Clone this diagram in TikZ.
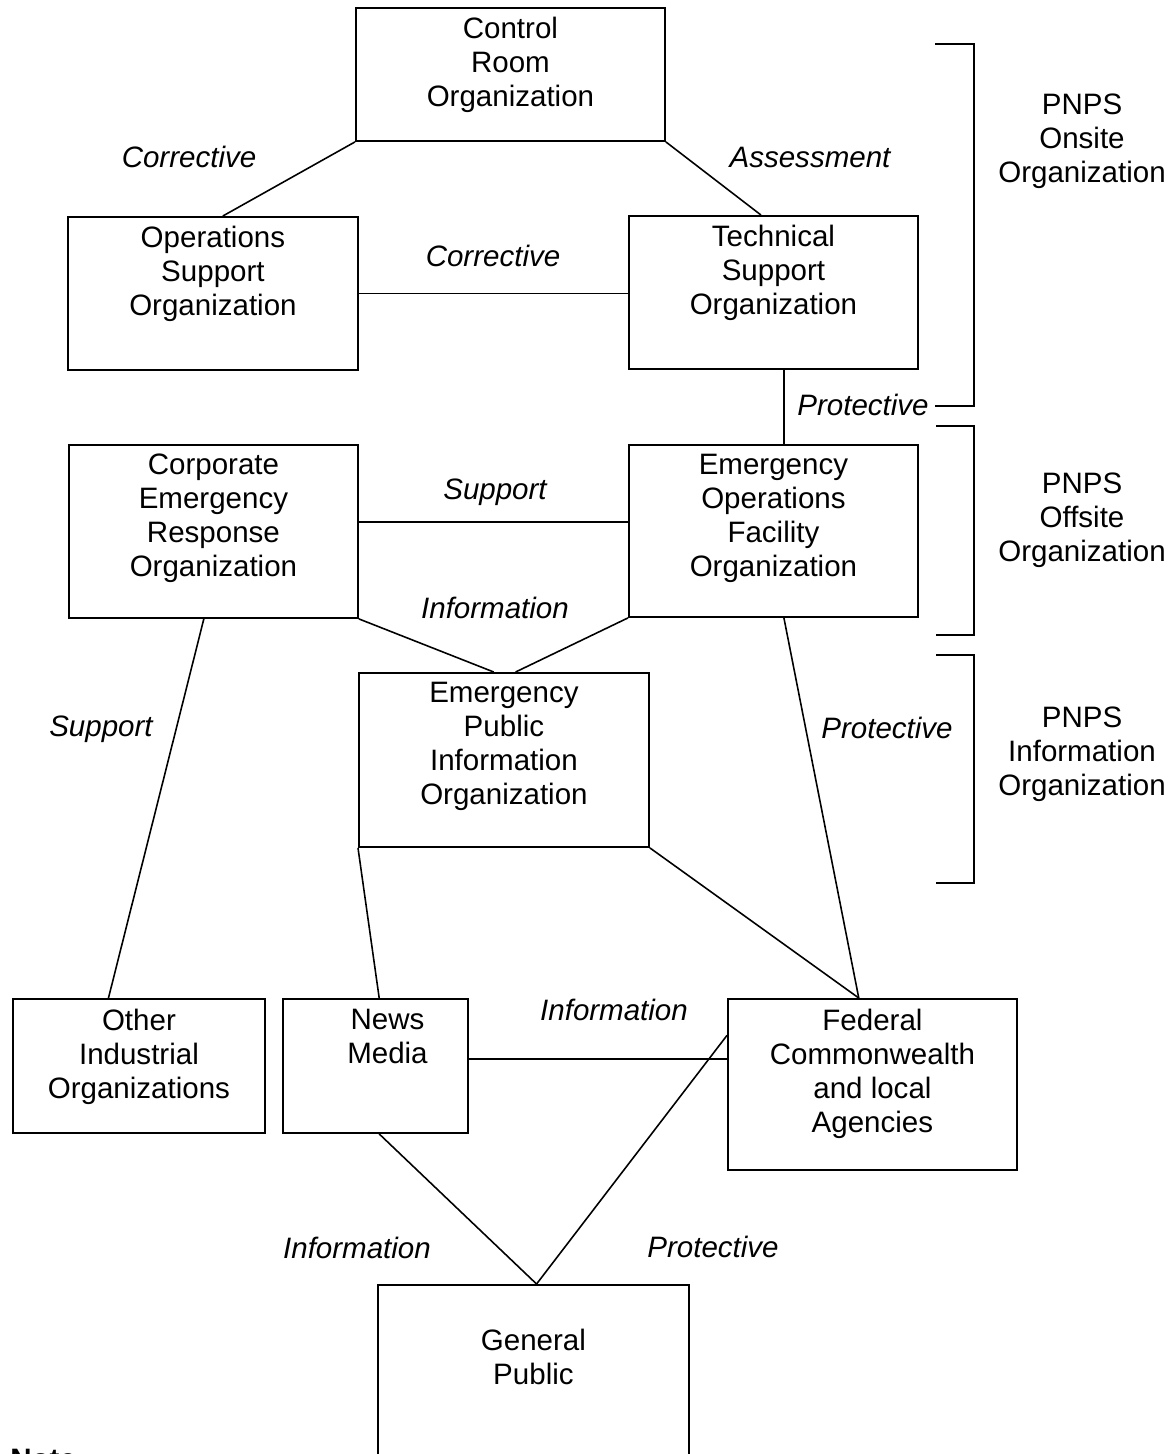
\documentclass[tikz,border=0pt]{standalone}
\usepackage{fontspec}
\setmainfont{Liberation Sans}
\usetikzlibrary{positioning,calc}

\begin{document}
\begin{tikzpicture}[x=0.02cm,y=-0.02cm,
  box/.style={draw,line width=1.1pt,rectangle,anchor=north west,inner sep=0pt},
  txt/.style={align=center,inner sep=0pt,font=\fontsize{16.8}{19.4}\selectfont},
  flow/.style={inner sep=0pt,font=\fontsize{16.8}{19.4}\selectfont\itshape},
  link/.style={line width=0.9pt}]

\useasboundingbox (0,0) rectangle (1176,1454);

%Boxes of the organizations
\node[box,minimum width=6.18cm,minimum height=2.66cm] (cro) at (355,7) {};
\node[box,minimum width=5.8cm,minimum height=3.06cm] (oso) at (67,216) {};
\node[box,minimum width=5.78cm,minimum height=3.06cm] (tso) at (628,215) {};
\node[box,minimum width=5.78cm,minimum height=3.46cm] (cero) at (68,444) {};
\node[box,minimum width=5.78cm,minimum height=3.44cm] (eofo) at (628,444) {};
\node[box,minimum width=5.8cm,minimum height=3.48cm] (epio) at (358,672) {};
\node[box,minimum width=5.04cm,minimum height=2.68cm] (oio) at (12,998) {};
\node[box,minimum width=3.7cm,minimum height=2.68cm] (news) at (282,998) {};
\node[box,minimum width=5.78cm,minimum height=3.42cm] (fcla) at (727,998) {};
\node[box,minimum width=6.22cm,minimum height=4.6cm] (pub) at (377,1284) {};

%Texts inside the boxes
\node[txt,below=0.19cm of cro.north] (cro-t) {Control\\Room\\Organization};
\node[txt,below=0.19cm of oso.north] (oso-t) {Operations\\Support\\Organization};
\node[txt,below=0.19cm of tso.north] (tso-t) {Technical\\Support\\Organization};
\node[txt,below=0.19cm of cero.north] (cero-t) {Corporate\\Emergency\\Response\\Organization};
\node[txt,below=0.19cm of eofo.north] (eofo-t) {Emergency\\Operations\\Facility\\Organization};
\node[txt,below=0.19cm of epio.north] (epio-t) {Emergency\\Public\\Information\\Organization};
\node[txt,below=0.21cm of oio.north] (oio-t) {Other\\Industrial\\Organizations};
\node[txt,below=0.21cm of news.north,xshift=0.24cm] (news-t) {News\\Media};
\node[txt,below=0.21cm of fcla.north] (fcla-t) {Federal\\Commonwealth\\and local\\Agencies};
\node[txt,below=0.89cm of pub.north] (pub-t) {General\\Public};

%Connectors
\draw[link] (cro.south west) -- ($(oso.north west)!0.534!(oso.north east)$);
\draw[link] (cro.south east) -- ($(tso.north west)!0.457!(tso.north east)$);
\draw[link] (oso.east) -- (oso.east -| tso.west);
\draw[link] ($(tso.south west)!0.536!(tso.south east)$) coordinate (tso-b) -- (tso-b |- eofo.north);
\draw[link] ($(cero.north east)!0.445!(cero.south east)$) coordinate (cero-r) -- (cero-r -| eofo.west);
\draw[link] (cero.south east) -- ($(epio.north west)!0.465!(epio.north east)$);
\draw[link] (eofo.south west) -- ($(epio.north west)!0.54!(epio.north east)$);
\draw[link] ($(cero.south west)!0.467!(cero.south east)$) -- ($(oio.north west)!0.38!(oio.north east)$);
\draw[link] ($(eofo.south west)!0.536!(eofo.south east)$) -- ($(fcla.north west)!0.453!(fcla.north east)$);
\draw[link] (epio.south west) -- ($(news.north west)!0.52!(news.north east)$);
\draw[link] (epio.south east) -- ($(fcla.north west)!0.453!(fcla.north east)$);
\draw[link] ($(news.north east)!0.45!(news.south east)$) coordinate (news-r) -- (news-r -| fcla.west);
\draw[link] ($(news.south west)!0.52!(news.south east)$) -- ($(pub.north west)!0.51!(pub.north east)$);
\draw[link] ($(fcla.north west)!0.216!(fcla.south west)$) -- ($(pub.north west)!0.51!(pub.north east)$);

%Labels on the connectors
\node[flow] (l-corr1) at (189,157) {Corrective};
\node[flow] (l-assess) at (810,157) {Assessment};
\node[flow] (l-corr2) at (493,256) {Corrective};
\node[flow] (l-prot1) at (863,405) {Protective};
\node[flow] (l-supp1) at (495,492) {Support};
\node[flow] (l-info1) at (495,608) {Information};
\node[flow] (l-supp2) at (101,729) {Support};
\node[flow] (l-prot2) at (887,728) {Protective};
\node[flow] (l-info2) at (614,1010) {Information};
\node[flow] (l-info3) at (357,1248) {Information};
\node[flow] (l-prot3) at (713,1247) {Protective};

%Brackets and group names
\draw[link] (935,44) -- (974,44) -- (974,406) -- (935,406);
\draw[link] (936,426) -- (974,426) -- (974,635) -- (936,635);
\draw[link] (936,655) -- (974,655) -- (974,883) -- (936,883);
\node[txt] (g-on) at (1082,141) {PNPS\\Onsite\\Organization};
\node[txt] (g-off) at (1082,520) {PNPS\\Offsite\\Organization};
\node[txt] (g-info) at (1082,754) {PNPS\\Information\\Organization};

\node[anchor=north west,inner sep=0pt,font=\fontsize{16.8}{19.4}\selectfont\bfseries] (note) at (10,1449) {Note:};

\end{tikzpicture}
\end{document}
